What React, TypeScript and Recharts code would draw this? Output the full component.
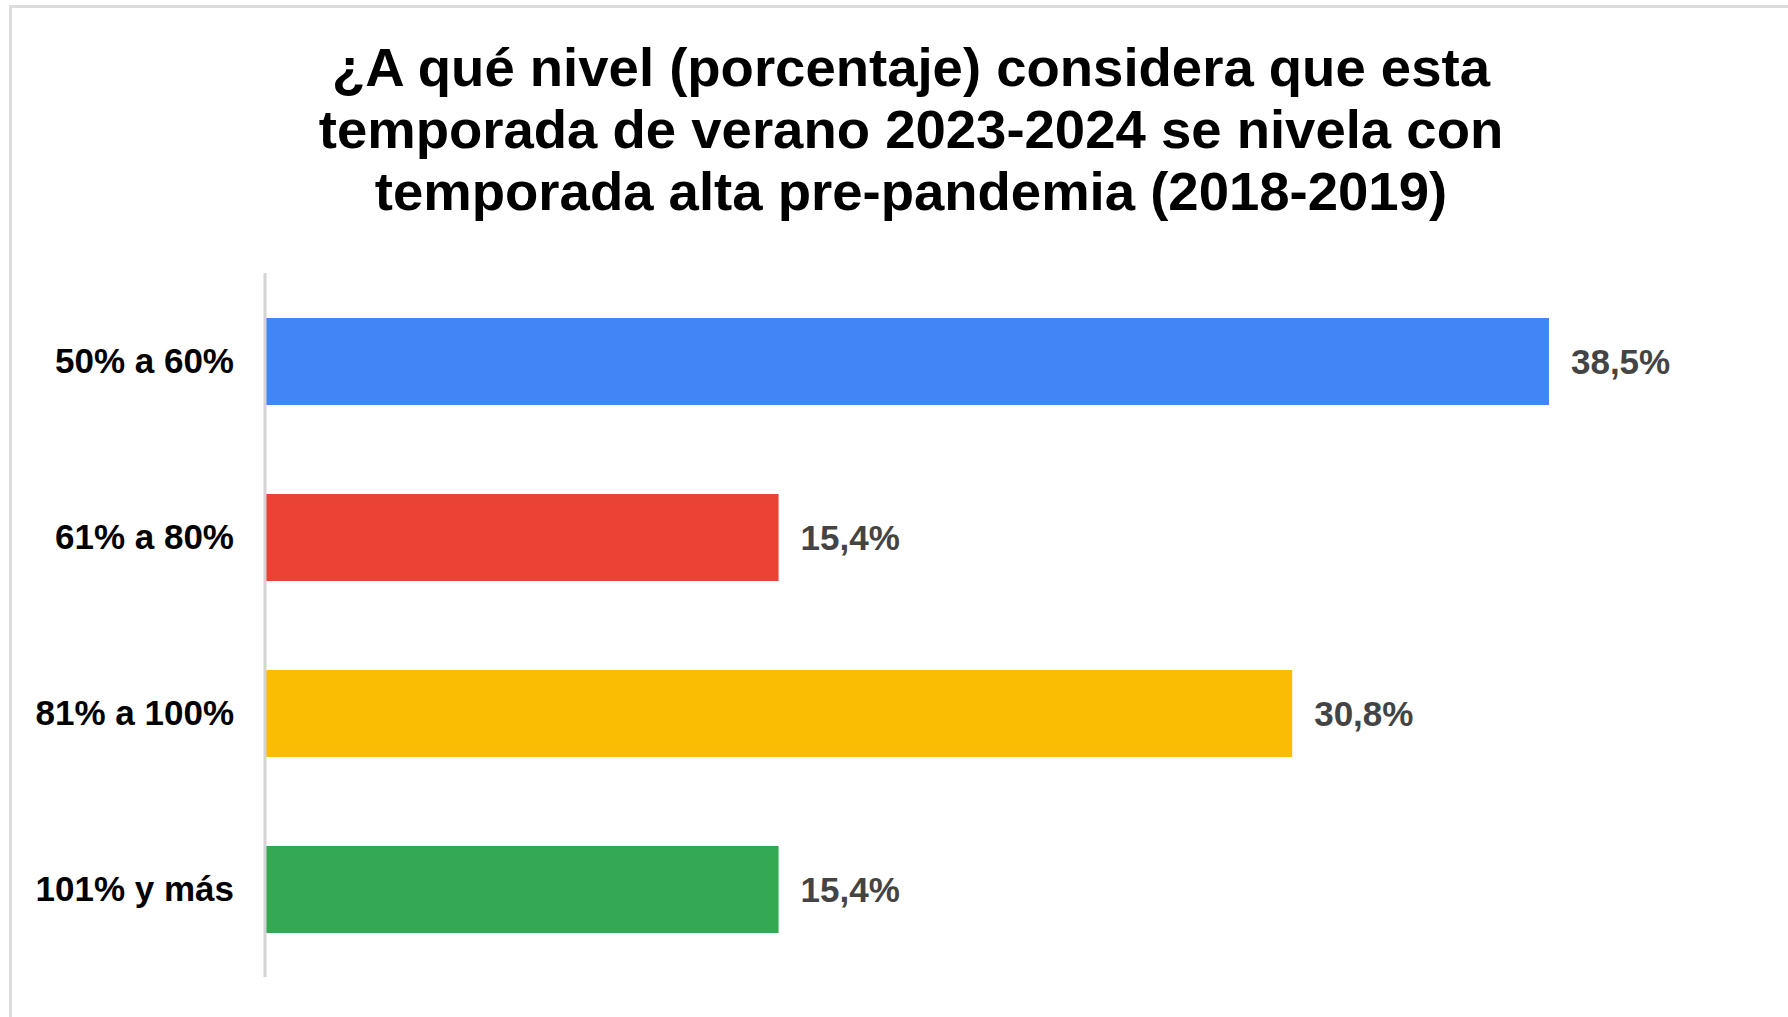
import React from "react";
import { BarChart, Bar, XAxis, YAxis, Cell, LabelList } from "recharts";

const categories = ["50% a 60%", "61% a 80%", "81% a 100%", "101% y más"];
const values = [38.5, 15.4, 30.8, 15.4];
const colors = ["#4285F4", "#EA4335", "#FBBC04", "#34A853"];
const titleLines = [
  "¿A qué nivel (porcentaje) considera que esta",
  "temporada de verano 2023-2024 se nivela con",
  "temporada alta pre-pandemia (2018-2019)",
];

const data = categories.map((c, i) => ({ name: c, value: values[i] }));
const FONT = "'Liberation Sans', Arial, sans-serif";

const fmt = (v: number) => v.toFixed(1).replace(".", ",") + "%";

export default function App() {
  return (
    <div
      style={{
        position: "absolute",
        left: 0,
        top: 0,
        width: 1788,
        height: 1017,
        overflow: "hidden",
        background: "#fff",
        fontFamily: FONT,
      }}
    >
      <div
        style={{
          position: "absolute",
          left: 9,
          top: 5,
          width: 1900,
          height: 1100,
          border: "3px solid #dcdcdc",
        }}
      />
      <div
        style={{
          position: "absolute",
          left: 0,
          top: 37,
          width: 1822,
          textAlign: "center",
          fontSize: 54.5,
          lineHeight: "62px",
          fontWeight: "bold",
          color: "#000",
        }}
      >
        {titleLines.map((l, i) => (
          <div key={i}>{l}</div>
        ))}
      </div>
      <div style={{ position: "absolute", left: 0, top: 0 }}>
        <BarChart
          layout="vertical"
          width={1788}
          height={1017}
          data={data}
          margin={{ top: 273, right: 189, bottom: 40, left: 0 }}
          barSize={87}
        >
          <XAxis type="number" domain={[0, 40]} hide />
          <YAxis
            type="category"
            dataKey="name"
            width={265}
            axisLine={{ stroke: "#d4d4d4", strokeWidth: 3 }}
            tickLine={false}
            tickSize={0}
            tickMargin={31}
            tick={{
              fill: "#000",
              fontSize: 35,
              fontWeight: "bold",
              fontFamily: FONT,
            }}
          />
          <Bar dataKey="value" isAnimationActive={false}>
            {data.map((d, i) => (
              <Cell key={i} fill={colors[i]} />
            ))}
            <LabelList
              dataKey="value"
              position="right"
              offset={22}
              formatter={(v: any) => fmt(Number(v))}
              style={{
                fill: "#444",
                fontSize: 35,
                fontWeight: "bold",
                fontFamily: FONT,
              }}
            />
          </Bar>
        </BarChart>
      </div>
    </div>
  );
}
